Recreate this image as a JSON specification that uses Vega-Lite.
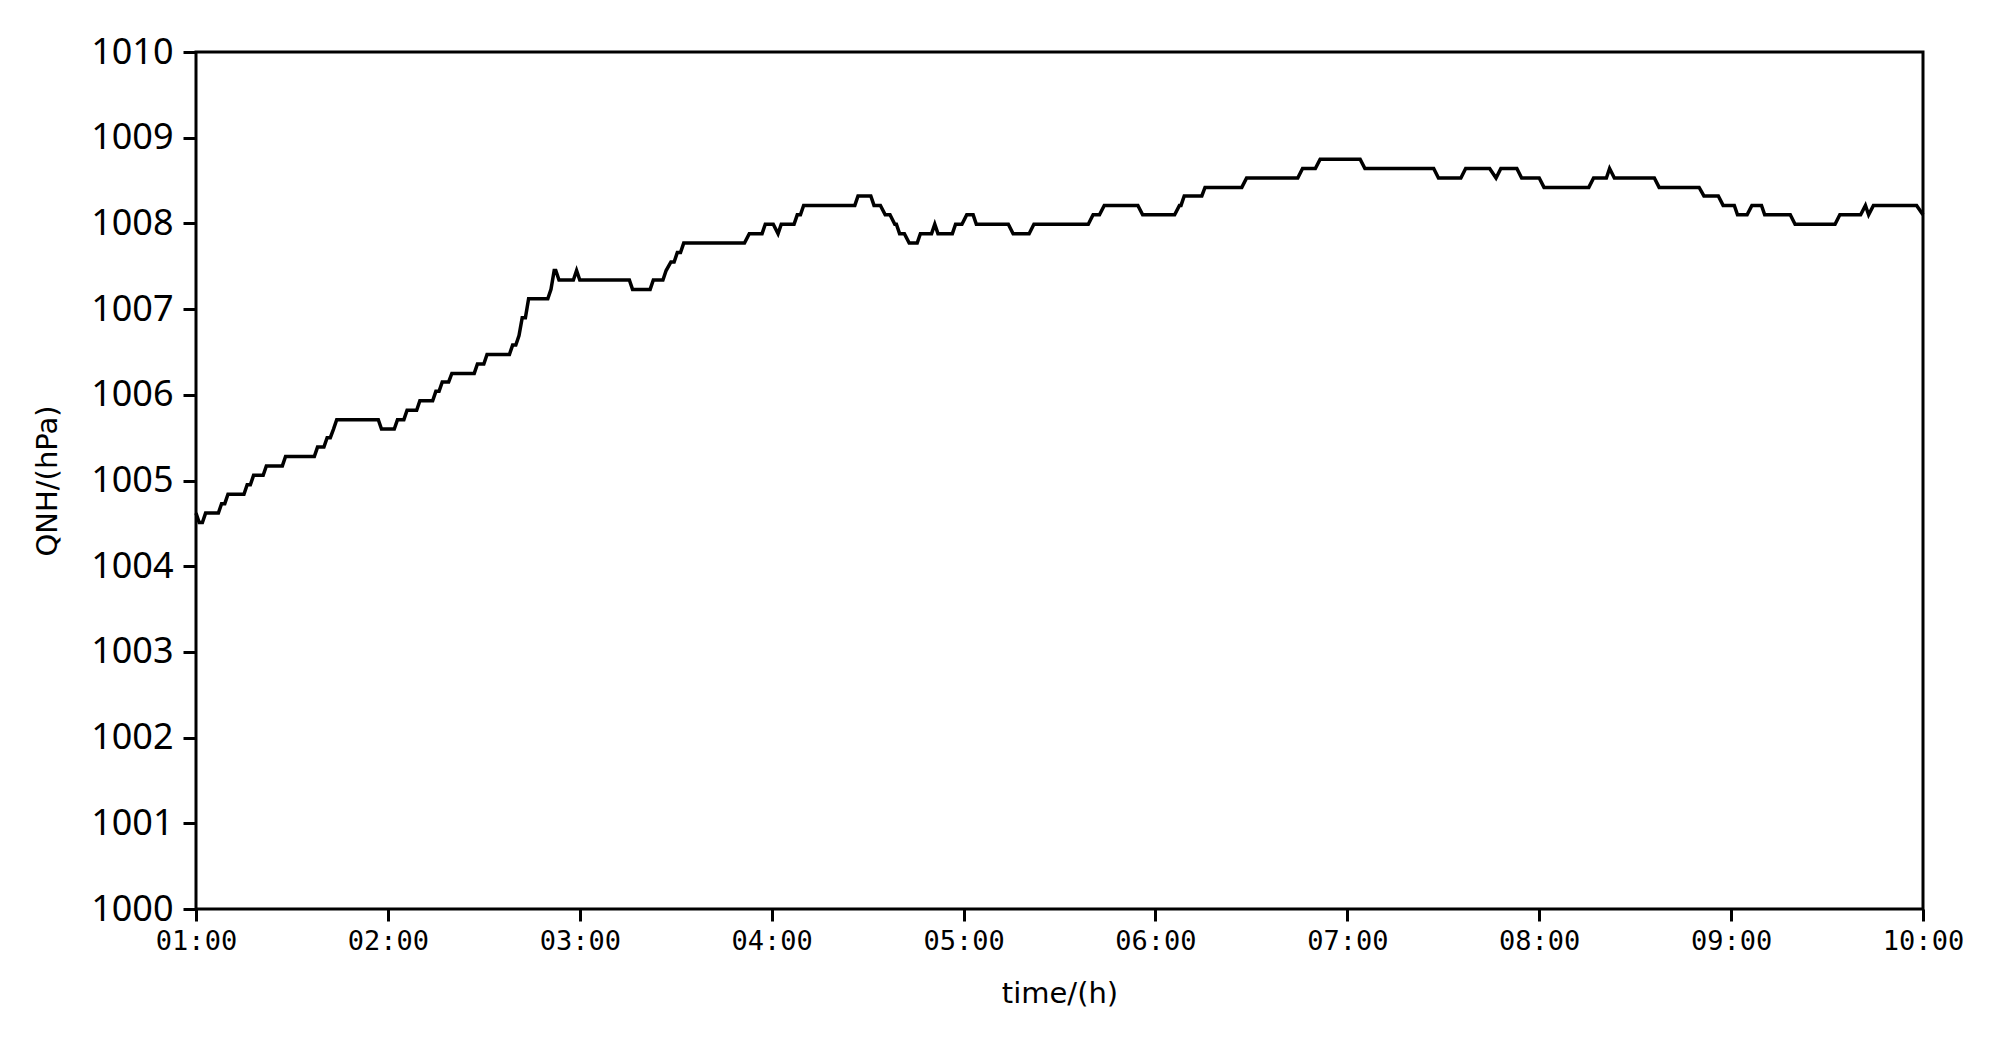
{
  "$schema": "https://vega.github.io/schema/vega-lite/v6.json",
  "autosize": "none",
  "width": 1727,
  "height": 857,
  "padding": {"left": 196, "top": 52, "right": 77, "bottom": 140},
  "background": "white",
  "config": {
    "view": {"stroke": "black", "strokeWidth": 3},
    "axis": {"grid": false, "domain": false, "tickColor": "black", "tickWidth": 3, "tickSize": 12, "labelColor": "black", "titleColor": "black", "titleFont": "DejaVu Sans", "titleFontWeight": "normal", "titleFontSize": 29}
  },
  "data": {
    "values": [
      {"time": "2024-01-01T01:00:00", "qnh": 1004.62},
      {"time": "2024-01-01T01:01:00", "qnh": 1004.51},
      {"time": "2024-01-01T01:02:00", "qnh": 1004.51},
      {"time": "2024-01-01T01:03:00", "qnh": 1004.62},
      {"time": "2024-01-01T01:07:00", "qnh": 1004.62},
      {"time": "2024-01-01T01:08:00", "qnh": 1004.73},
      {"time": "2024-01-01T01:09:00", "qnh": 1004.73},
      {"time": "2024-01-01T01:10:00", "qnh": 1004.84},
      {"time": "2024-01-01T01:15:00", "qnh": 1004.84},
      {"time": "2024-01-01T01:16:00", "qnh": 1004.95},
      {"time": "2024-01-01T01:17:00", "qnh": 1004.95},
      {"time": "2024-01-01T01:18:00", "qnh": 1005.06},
      {"time": "2024-01-01T01:21:00", "qnh": 1005.06},
      {"time": "2024-01-01T01:22:00", "qnh": 1005.17},
      {"time": "2024-01-01T01:27:00", "qnh": 1005.17},
      {"time": "2024-01-01T01:28:00", "qnh": 1005.28},
      {"time": "2024-01-01T01:37:00", "qnh": 1005.28},
      {"time": "2024-01-01T01:38:00", "qnh": 1005.39},
      {"time": "2024-01-01T01:40:00", "qnh": 1005.39},
      {"time": "2024-01-01T01:41:00", "qnh": 1005.50},
      {"time": "2024-01-01T01:42:00", "qnh": 1005.50},
      {"time": "2024-01-01T01:43:00", "qnh": 1005.60},
      {"time": "2024-01-01T01:44:00", "qnh": 1005.71},
      {"time": "2024-01-01T01:57:00", "qnh": 1005.71},
      {"time": "2024-01-01T01:58:00", "qnh": 1005.60},
      {"time": "2024-01-01T02:02:00", "qnh": 1005.60},
      {"time": "2024-01-01T02:03:00", "qnh": 1005.71},
      {"time": "2024-01-01T02:05:00", "qnh": 1005.71},
      {"time": "2024-01-01T02:06:00", "qnh": 1005.82},
      {"time": "2024-01-01T02:09:00", "qnh": 1005.82},
      {"time": "2024-01-01T02:10:00", "qnh": 1005.93},
      {"time": "2024-01-01T02:14:00", "qnh": 1005.93},
      {"time": "2024-01-01T02:15:00", "qnh": 1006.04},
      {"time": "2024-01-01T02:16:00", "qnh": 1006.04},
      {"time": "2024-01-01T02:17:00", "qnh": 1006.15},
      {"time": "2024-01-01T02:19:00", "qnh": 1006.15},
      {"time": "2024-01-01T02:20:00", "qnh": 1006.25},
      {"time": "2024-01-01T02:27:00", "qnh": 1006.25},
      {"time": "2024-01-01T02:28:00", "qnh": 1006.36},
      {"time": "2024-01-01T02:30:00", "qnh": 1006.36},
      {"time": "2024-01-01T02:31:00", "qnh": 1006.47},
      {"time": "2024-01-01T02:38:00", "qnh": 1006.47},
      {"time": "2024-01-01T02:39:00", "qnh": 1006.58},
      {"time": "2024-01-01T02:40:00", "qnh": 1006.58},
      {"time": "2024-01-01T02:41:00", "qnh": 1006.69},
      {"time": "2024-01-01T02:42:00", "qnh": 1006.90},
      {"time": "2024-01-01T02:43:00", "qnh": 1006.90},
      {"time": "2024-01-01T02:44:00", "qnh": 1007.12},
      {"time": "2024-01-01T02:50:00", "qnh": 1007.12},
      {"time": "2024-01-01T02:51:00", "qnh": 1007.23},
      {"time": "2024-01-01T02:52:00", "qnh": 1007.45},
      {"time": "2024-01-01T02:52:30", "qnh": 1007.45},
      {"time": "2024-01-01T02:53:30", "qnh": 1007.34},
      {"time": "2024-01-01T02:58:00", "qnh": 1007.34},
      {"time": "2024-01-01T02:59:00", "qnh": 1007.45},
      {"time": "2024-01-01T03:00:00", "qnh": 1007.34},
      {"time": "2024-01-01T03:15:30", "qnh": 1007.34},
      {"time": "2024-01-01T03:16:30", "qnh": 1007.23},
      {"time": "2024-01-01T03:22:00", "qnh": 1007.23},
      {"time": "2024-01-01T03:23:00", "qnh": 1007.34},
      {"time": "2024-01-01T03:26:00", "qnh": 1007.34},
      {"time": "2024-01-01T03:27:00", "qnh": 1007.45},
      {"time": "2024-01-01T03:28:30", "qnh": 1007.55},
      {"time": "2024-01-01T03:29:30", "qnh": 1007.55},
      {"time": "2024-01-01T03:30:30", "qnh": 1007.66},
      {"time": "2024-01-01T03:31:30", "qnh": 1007.66},
      {"time": "2024-01-01T03:32:30", "qnh": 1007.77},
      {"time": "2024-01-01T03:51:30", "qnh": 1007.77},
      {"time": "2024-01-01T03:53:00", "qnh": 1007.88},
      {"time": "2024-01-01T03:57:00", "qnh": 1007.88},
      {"time": "2024-01-01T03:58:00", "qnh": 1007.99},
      {"time": "2024-01-01T04:00:30", "qnh": 1007.99},
      {"time": "2024-01-01T04:02:00", "qnh": 1007.88},
      {"time": "2024-01-01T04:03:00", "qnh": 1007.99},
      {"time": "2024-01-01T04:07:00", "qnh": 1007.99},
      {"time": "2024-01-01T04:08:00", "qnh": 1008.10},
      {"time": "2024-01-01T04:09:00", "qnh": 1008.10},
      {"time": "2024-01-01T04:10:00", "qnh": 1008.21},
      {"time": "2024-01-01T04:26:00", "qnh": 1008.21},
      {"time": "2024-01-01T04:27:00", "qnh": 1008.32},
      {"time": "2024-01-01T04:31:00", "qnh": 1008.32},
      {"time": "2024-01-01T04:32:00", "qnh": 1008.21},
      {"time": "2024-01-01T04:34:00", "qnh": 1008.21},
      {"time": "2024-01-01T04:35:30", "qnh": 1008.10},
      {"time": "2024-01-01T04:37:00", "qnh": 1008.10},
      {"time": "2024-01-01T04:38:30", "qnh": 1007.99},
      {"time": "2024-01-01T04:39:00", "qnh": 1007.99},
      {"time": "2024-01-01T04:40:00", "qnh": 1007.88},
      {"time": "2024-01-01T04:41:30", "qnh": 1007.88},
      {"time": "2024-01-01T04:43:00", "qnh": 1007.77},
      {"time": "2024-01-01T04:45:30", "qnh": 1007.77},
      {"time": "2024-01-01T04:46:30", "qnh": 1007.88},
      {"time": "2024-01-01T04:50:00", "qnh": 1007.88},
      {"time": "2024-01-01T04:51:00", "qnh": 1007.99},
      {"time": "2024-01-01T04:52:00", "qnh": 1007.88},
      {"time": "2024-01-01T04:56:30", "qnh": 1007.88},
      {"time": "2024-01-01T04:57:30", "qnh": 1007.99},
      {"time": "2024-01-01T04:59:30", "qnh": 1007.99},
      {"time": "2024-01-01T05:01:00", "qnh": 1008.10},
      {"time": "2024-01-01T05:03:00", "qnh": 1008.10},
      {"time": "2024-01-01T05:04:00", "qnh": 1007.99},
      {"time": "2024-01-01T05:14:00", "qnh": 1007.99},
      {"time": "2024-01-01T05:15:30", "qnh": 1007.88},
      {"time": "2024-01-01T05:20:30", "qnh": 1007.88},
      {"time": "2024-01-01T05:22:00", "qnh": 1007.99},
      {"time": "2024-01-01T05:39:00", "qnh": 1007.99},
      {"time": "2024-01-01T05:40:30", "qnh": 1008.10},
      {"time": "2024-01-01T05:42:30", "qnh": 1008.10},
      {"time": "2024-01-01T05:44:00", "qnh": 1008.21},
      {"time": "2024-01-01T05:54:30", "qnh": 1008.21},
      {"time": "2024-01-01T05:56:00", "qnh": 1008.10},
      {"time": "2024-01-01T06:06:00", "qnh": 1008.10},
      {"time": "2024-01-01T06:07:30", "qnh": 1008.21},
      {"time": "2024-01-01T06:08:00", "qnh": 1008.21},
      {"time": "2024-01-01T06:09:00", "qnh": 1008.32},
      {"time": "2024-01-01T06:14:30", "qnh": 1008.32},
      {"time": "2024-01-01T06:15:30", "qnh": 1008.42},
      {"time": "2024-01-01T06:27:00", "qnh": 1008.42},
      {"time": "2024-01-01T06:28:30", "qnh": 1008.53},
      {"time": "2024-01-01T06:44:30", "qnh": 1008.53},
      {"time": "2024-01-01T06:46:00", "qnh": 1008.64},
      {"time": "2024-01-01T06:50:00", "qnh": 1008.64},
      {"time": "2024-01-01T06:51:30", "qnh": 1008.75},
      {"time": "2024-01-01T07:04:00", "qnh": 1008.75},
      {"time": "2024-01-01T07:05:30", "qnh": 1008.64},
      {"time": "2024-01-01T07:27:00", "qnh": 1008.64},
      {"time": "2024-01-01T07:28:30", "qnh": 1008.53},
      {"time": "2024-01-01T07:35:30", "qnh": 1008.53},
      {"time": "2024-01-01T07:37:00", "qnh": 1008.64},
      {"time": "2024-01-01T07:44:30", "qnh": 1008.64},
      {"time": "2024-01-01T07:46:30", "qnh": 1008.53},
      {"time": "2024-01-01T07:48:00", "qnh": 1008.64},
      {"time": "2024-01-01T07:53:00", "qnh": 1008.64},
      {"time": "2024-01-01T07:54:30", "qnh": 1008.53},
      {"time": "2024-01-01T08:00:00", "qnh": 1008.53},
      {"time": "2024-01-01T08:01:30", "qnh": 1008.42},
      {"time": "2024-01-01T08:15:30", "qnh": 1008.42},
      {"time": "2024-01-01T08:17:00", "qnh": 1008.53},
      {"time": "2024-01-01T08:21:00", "qnh": 1008.53},
      {"time": "2024-01-01T08:22:00", "qnh": 1008.64},
      {"time": "2024-01-01T08:23:30", "qnh": 1008.53},
      {"time": "2024-01-01T08:36:00", "qnh": 1008.53},
      {"time": "2024-01-01T08:37:30", "qnh": 1008.42},
      {"time": "2024-01-01T08:50:00", "qnh": 1008.42},
      {"time": "2024-01-01T08:51:30", "qnh": 1008.32},
      {"time": "2024-01-01T08:56:00", "qnh": 1008.32},
      {"time": "2024-01-01T08:57:30", "qnh": 1008.21},
      {"time": "2024-01-01T09:01:00", "qnh": 1008.21},
      {"time": "2024-01-01T09:02:00", "qnh": 1008.10},
      {"time": "2024-01-01T09:05:00", "qnh": 1008.10},
      {"time": "2024-01-01T09:06:30", "qnh": 1008.21},
      {"time": "2024-01-01T09:09:30", "qnh": 1008.21},
      {"time": "2024-01-01T09:10:30", "qnh": 1008.10},
      {"time": "2024-01-01T09:18:30", "qnh": 1008.10},
      {"time": "2024-01-01T09:20:00", "qnh": 1007.99},
      {"time": "2024-01-01T09:32:30", "qnh": 1007.99},
      {"time": "2024-01-01T09:34:00", "qnh": 1008.10},
      {"time": "2024-01-01T09:40:30", "qnh": 1008.10},
      {"time": "2024-01-01T09:42:00", "qnh": 1008.21},
      {"time": "2024-01-01T09:43:00", "qnh": 1008.10},
      {"time": "2024-01-01T09:44:30", "qnh": 1008.21},
      {"time": "2024-01-01T09:58:00", "qnh": 1008.21},
      {"time": "2024-01-01T10:00:00", "qnh": 1008.10}
    ]
  },
  "mark": {"type": "line", "color": "black", "strokeWidth": 3.5},
  "encoding": {
    "x": {
      "field": "time",
      "type": "temporal",
      "title": "time/(h)",
      "scale": {"domain": [{"year": 2024, "month": 1, "date": 1, "hours": 1}, {"year": 2024, "month": 1, "date": 1, "hours": 10}]},
      "axis": {"format": "%H:%M", "tickCount": 9, "labelFlush": false, "labelOverlap": false, "labelFont": "DejaVu Sans Mono", "labelFontSize": 27, "labelPadding": 7, "titlePadding": 25}
    },
    "y": {
      "field": "qnh",
      "type": "quantitative",
      "title": "QNH/(hPa)",
      "scale": {"domain": [1000, 1010], "nice": false},
      "axis": {"tickCount": 10, "format": "d", "labelFlush": false, "labelFont": "Noto Sans", "labelFontSize": 36, "labelPadding": 10, "tickSize": 13, "titlePadding": 28}
    }
  }
}
